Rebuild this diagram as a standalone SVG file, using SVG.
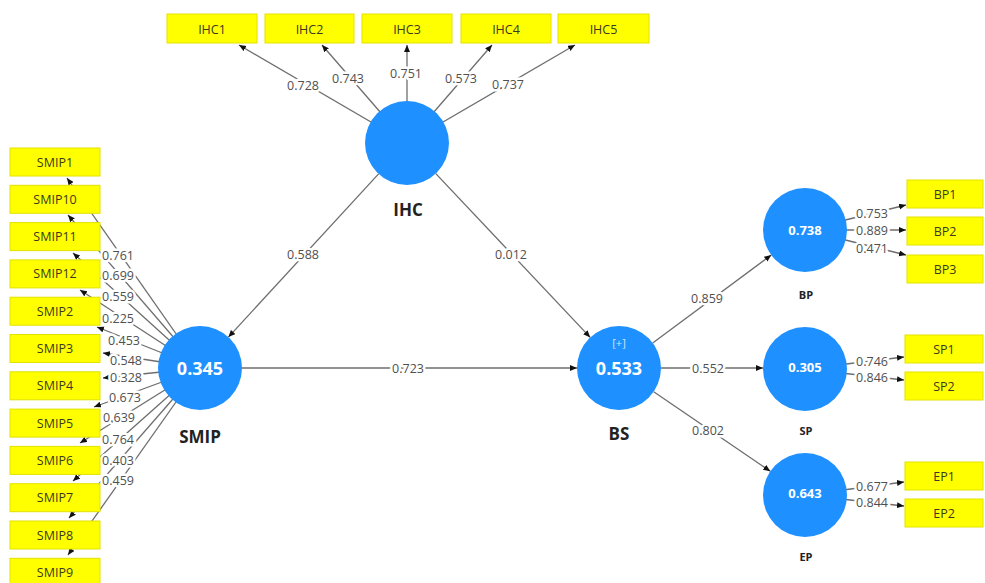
<svg xmlns="http://www.w3.org/2000/svg" width="985" height="583" viewBox="0 0 985 583">
<style>
.bg{fill:#fff}
.ln{stroke:#6e6e6e;stroke-width:1.3;fill:none}
.arr{marker-end:url(#ah)}
.lbl{font-family:"Open Sans","Noto Sans","Liberation Sans",sans-serif;font-size:12.5px;fill:#505050;text-anchor:middle;dominant-baseline:central;stroke:#fff;stroke-width:5;paint-order:stroke;stroke-linejoin:round}
.lv{fill:#1E90FF}
.box{fill:#FFFF00;stroke:#E2E200;stroke-width:1}
.bt{font-family:"Open Sans","Noto Sans","Liberation Sans",sans-serif;font-size:12.5px;fill:#3a3a20;text-anchor:middle;dominant-baseline:central}
.big{font-family:"Open Sans","Noto Sans","Liberation Sans",sans-serif;font-weight:bold;font-size:18px;fill:#fff;text-anchor:middle;dominant-baseline:central}
.sm{font-family:"Open Sans","Noto Sans","Liberation Sans",sans-serif;font-weight:bold;font-size:13px;fill:#fff;text-anchor:middle;dominant-baseline:central}
.nm{font-family:"Open Sans","Noto Sans","Liberation Sans",sans-serif;font-weight:bold;font-size:17px;fill:#222;text-anchor:middle;dominant-baseline:central}
.nms{font-family:"Open Sans","Noto Sans","Liberation Sans",sans-serif;font-weight:bold;font-size:11px;fill:#222;text-anchor:middle;dominant-baseline:central}
</style>
<defs>
<marker id="ah" markerUnits="userSpaceOnUse" markerWidth="8" markerHeight="7" refX="7" refY="3" orient="auto">
<path d="M0,0 L7,3 L0,6 z" fill="#111"/>
</marker>
</defs>
<rect class="bg" x="0" y="0" width="985" height="583"/>
<g id="connectors">
<line class="ln arr" x1="378.6" y1="173.9" x2="228.4" y2="337.1"/>
<line class="ln arr" x1="435.8" y1="173.6" x2="590.2" y2="337.4"/>
<line class="ln arr" x1="242" y1="368" x2="577" y2="368"/>
<line class="ln arr" x1="652.7" y1="343" x2="771.3" y2="255"/>
<line class="ln arr" x1="661" y1="368" x2="763" y2="368"/>
<line class="ln arr" x1="653.7" y1="391.7" x2="770.3" y2="471.3"/>
<line class="ln arr" x1="407" y1="143" x2="239" y2="45"/>
<line class="ln arr" x1="407" y1="143" x2="322" y2="45"/>
<line class="ln arr" x1="407" y1="143" x2="407" y2="45"/>
<line class="ln arr" x1="407" y1="143" x2="492" y2="45"/>
<line class="ln arr" x1="407" y1="143" x2="575" y2="45"/>
<line class="ln arr" x1="200" y1="368" x2="67" y2="178"/>
<line class="ln arr" x1="200" y1="368" x2="68" y2="215"/>
<line class="ln arr" x1="200" y1="368" x2="73" y2="253"/>
<line class="ln arr" x1="200" y1="368" x2="80" y2="290"/>
<line class="ln arr" x1="200" y1="368" x2="97" y2="327"/>
<line class="ln arr" x1="200" y1="368" x2="103" y2="353"/>
<line class="ln arr" x1="200" y1="368" x2="103" y2="378"/>
<line class="ln arr" x1="200" y1="368" x2="94" y2="407"/>
<line class="ln arr" x1="200" y1="368" x2="80" y2="443"/>
<line class="ln arr" x1="200" y1="368" x2="73" y2="481"/>
<line class="ln arr" x1="200" y1="368" x2="69" y2="518"/>
<line class="ln arr" x1="200" y1="368" x2="68" y2="555"/>
<line class="ln arr" x1="805" y1="230" x2="906" y2="205"/>
<line class="ln arr" x1="805" y1="230" x2="906" y2="230"/>
<line class="ln arr" x1="805" y1="230" x2="906" y2="255"/>
<line class="ln arr" x1="805" y1="369" x2="904" y2="357"/>
<line class="ln arr" x1="805" y1="369" x2="904" y2="380"/>
<line class="ln arr" x1="805" y1="495" x2="904" y2="482"/>
<line class="ln arr" x1="805" y1="495" x2="904" y2="506"/>
</g>
<g id="labels">
<text class="lbl" x="303" y="254">0.588</text>
<text class="lbl" x="511" y="254">0.012</text>
<text class="lbl" x="408" y="368">0.723</text>
<text class="lbl" x="707" y="298">0.859</text>
<text class="lbl" x="708" y="368">0.552</text>
<text class="lbl" x="708" y="430">0.802</text>
<text class="lbl" x="303" y="85">0.728</text>
<text class="lbl" x="348" y="78">0.743</text>
<text class="lbl" x="406" y="73">0.751</text>
<text class="lbl" x="461" y="78">0.573</text>
<text class="lbl" x="508" y="84">0.737</text>
<text class="lbl" x="118" y="255">0.761</text>
<text class="lbl" x="118" y="275">0.699</text>
<text class="lbl" x="118" y="296">0.559</text>
<text class="lbl" x="118" y="318">0.225</text>
<text class="lbl" x="124" y="340">0.453</text>
<text class="lbl" x="126" y="360">0.548</text>
<text class="lbl" x="126" y="377">0.328</text>
<text class="lbl" x="125" y="397">0.673</text>
<text class="lbl" x="119" y="417">0.639</text>
<text class="lbl" x="118" y="439">0.764</text>
<text class="lbl" x="118" y="460">0.403</text>
<text class="lbl" x="118" y="480">0.459</text>
<text class="lbl" x="872" y="213">0.753</text>
<text class="lbl" x="872" y="230">0.889</text>
<text class="lbl" x="872" y="248">0.471</text>
<text class="lbl" x="872" y="361">0.746</text>
<text class="lbl" x="872" y="377">0.846</text>
<text class="lbl" x="872" y="486">0.677</text>
<text class="lbl" x="872" y="502">0.844</text>
</g>
<g id="IHC"><circle class="lv" cx="407" cy="143" r="42"/><text class="nm" x="408" y="209">IHC</text></g>
<g id="SMIP"><circle class="lv" cx="200" cy="368" r="42"/><text class="big" x="200" y="368">0.345</text><text class="nm" x="200" y="436">SMIP</text></g>
<g id="BS"><circle class="lv" cx="619" cy="368" r="42"/><text x="619" y="342" font-family="Open Sans, Noto Sans, sans-serif" font-size="11" fill="#cfe6ff" text-anchor="middle" dominant-baseline="central">[+]</text><text class="big" x="619" y="368">0.533</text><text class="nm" x="619" y="433">BS</text></g>
<g id="BP"><circle class="lv" cx="805" cy="230" r="42"/><text class="sm" x="805" y="230">0.738</text><text class="nms" x="806" y="294">BP</text></g>
<g id="SP"><circle class="lv" cx="805" cy="369" r="42"/><text class="sm" x="805" y="367">0.305</text><text class="nms" x="806" y="430">SP</text></g>
<g id="EP"><circle class="lv" cx="805" cy="495" r="42"/><text class="sm" x="805" y="493">0.643</text><text class="nms" x="806" y="556">EP</text></g>
<g id="IHC1"><rect class="box" x="167" y="14" width="90" height="29"/><text class="bt" x="212" y="29">IHC1</text></g>
<g id="IHC2"><rect class="box" x="265" y="14" width="89" height="29"/><text class="bt" x="309.5" y="29">IHC2</text></g>
<g id="IHC3"><rect class="box" x="362" y="14" width="90" height="29"/><text class="bt" x="407" y="29">IHC3</text></g>
<g id="IHC4"><rect class="box" x="461" y="14" width="90" height="29"/><text class="bt" x="506" y="29">IHC4</text></g>
<g id="IHC5"><rect class="box" x="558" y="14" width="91" height="29"/><text class="bt" x="603.5" y="29">IHC5</text></g>
<g id="SMIP1"><rect class="box" x="10" y="148" width="90" height="28"/><text class="bt" x="55" y="162">SMIP1</text></g>
<g id="SMIP10"><rect class="box" x="10" y="185.3" width="90" height="28"/><text class="bt" x="55" y="199.3">SMIP10</text></g>
<g id="SMIP11"><rect class="box" x="10" y="222.6" width="90" height="28"/><text class="bt" x="55" y="236.6">SMIP11</text></g>
<g id="SMIP12"><rect class="box" x="10" y="259.9" width="90" height="28"/><text class="bt" x="55" y="273.9">SMIP12</text></g>
<g id="SMIP2"><rect class="box" x="10" y="297.2" width="90" height="28"/><text class="bt" x="55" y="311.2">SMIP2</text></g>
<g id="SMIP3"><rect class="box" x="10" y="334.5" width="90" height="28"/><text class="bt" x="55" y="348.5">SMIP3</text></g>
<g id="SMIP4"><rect class="box" x="10" y="371.8" width="90" height="28"/><text class="bt" x="55" y="385.8">SMIP4</text></g>
<g id="SMIP5"><rect class="box" x="10" y="409.1" width="90" height="28"/><text class="bt" x="55" y="423.1">SMIP5</text></g>
<g id="SMIP6"><rect class="box" x="10" y="446.4" width="90" height="28"/><text class="bt" x="55" y="460.4">SMIP6</text></g>
<g id="SMIP7"><rect class="box" x="10" y="483.7" width="90" height="28"/><text class="bt" x="55" y="497.7">SMIP7</text></g>
<g id="SMIP8"><rect class="box" x="10" y="521" width="90" height="28"/><text class="bt" x="55" y="535">SMIP8</text></g>
<g id="SMIP9"><rect class="box" x="10" y="558.3" width="90" height="28"/><text class="bt" x="55" y="572.3">SMIP9</text></g>
<g id="BP1"><rect class="box" x="907" y="180" width="76" height="28"/><text class="bt" x="945" y="194">BP1</text></g>
<g id="BP2"><rect class="box" x="907" y="217" width="76" height="28"/><text class="bt" x="945" y="231">BP2</text></g>
<g id="BP3"><rect class="box" x="907" y="255" width="76" height="28"/><text class="bt" x="945" y="269">BP3</text></g>
<g id="SP1"><rect class="box" x="905" y="335" width="78" height="28"/><text class="bt" x="944" y="349">SP1</text></g>
<g id="SP2"><rect class="box" x="905" y="372" width="78" height="28"/><text class="bt" x="944" y="386">SP2</text></g>
<g id="EP1"><rect class="box" x="905" y="462" width="78" height="28"/><text class="bt" x="944" y="476">EP1</text></g>
<g id="EP2"><rect class="box" x="905" y="499" width="78" height="28"/><text class="bt" x="944" y="513">EP2</text></g>
</svg>
